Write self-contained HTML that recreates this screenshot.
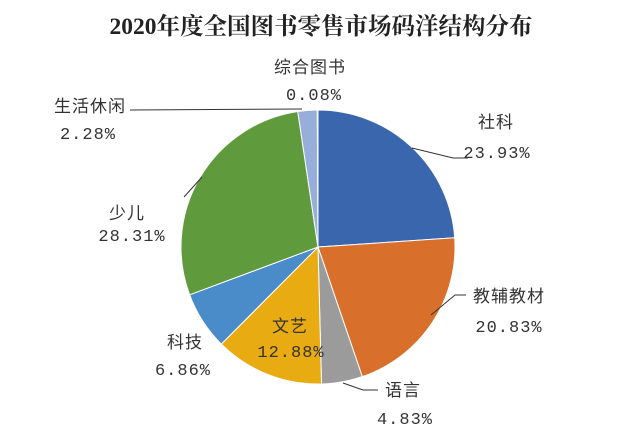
<!DOCTYPE html>
<html><head><meta charset="utf-8"><style>
body{margin:0;background:#fff;width:640px;height:431px;overflow:hidden}
text{font-family:"Liberation Serif","Noto Serif CJK SC",serif;fill:#222}
.l{font-family:"Liberation Mono","Noto Sans CJK SC",sans-serif;font-size:17px;letter-spacing:1px;fill:#333}
</style></head><body>
<svg id="s" width="640" height="431" xmlns="http://www.w3.org/2000/svg">
<text x="321" y="34" text-anchor="middle" style="font-size:23.5px;font-weight:bold;font-family:'Liberation Serif','Noto Serif CJK SC',serif">2020年度全国图书零售市场码洋结构分布</text>
<g id="p"></g>
<g fill="none" stroke="#333" stroke-width="1">
<polyline points="412,148 453,158 468,158"/>
<polyline points="431,315 455,295 466,295"/>
<polyline points="343,383 363,390 378,390"/>
<polyline points="202,177 184,197"/>
<polyline points="130,110 302,109"/>
</g>
<text class="l" x="496" y="128" text-anchor="middle">社科</text>
<text class="l" x="497" y="158" text-anchor="middle">23.93%</text>
<text class="l" x="509" y="302" text-anchor="middle">教辅教材</text>
<text class="l" x="509" y="332" text-anchor="middle">20.83%</text>
<text class="l" x="403" y="396" text-anchor="middle">语言</text>
<text class="l" x="405" y="424" text-anchor="middle">4.83%</text>
<text class="l" x="290" y="332" text-anchor="middle">文艺</text>
<text class="l" x="291" y="357" text-anchor="middle">12.88%</text>
<text class="l" x="185" y="348" text-anchor="middle">科技</text>
<text class="l" x="183" y="375" text-anchor="middle">6.86%</text>
<text class="l" x="127" y="219" text-anchor="middle">少儿</text>
<text class="l" x="132" y="241" text-anchor="middle">28.31%</text>
<text class="l" x="90" y="112" text-anchor="middle">生活休闲</text>
<text class="l" x="88" y="139" text-anchor="middle">2.28%</text>
<text class="l" x="310" y="73" text-anchor="middle">综合图书</text>
<text class="l" x="314" y="100" text-anchor="middle">0.08%</text>
</svg>
<script>
var d=[[23.93,"#3a66ad"],[20.83,"#d8702c"],[4.83,"#9b9b9b"],[12.88,"#e8ab12"],[6.86,"#4a8bca"],[28.31,"#5f9a3d"],[2.28,"#97aedb"],[0.08,"#c9d3ea"]];
var cx=318,cy=247,r=137,a=0,h="",tot=0;d.forEach(function(x){tot+=x[0]});
d.forEach(function(x){var b=a+x[0]/tot*2*Math.PI;
var x1=cx+r*Math.sin(a),y1=cy-r*Math.cos(a),x2=cx+r*Math.sin(b),y2=cy-r*Math.cos(b);
h+='<path d="M'+cx+','+cy+'L'+x1+','+y1+'A'+r+','+r+' 0 '+((b-a)>Math.PI?1:0)+' 1 '+x2+','+y2+'Z" fill="'+x[1]+'" stroke="#fff" stroke-width="1"/>';a=b;});
document.getElementById("p").innerHTML=h;
</script>
</body></html>
